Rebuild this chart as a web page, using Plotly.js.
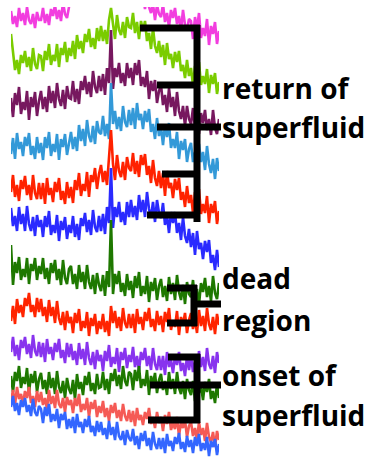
<!DOCTYPE html>
<html>
<head>
<meta charset="utf-8">
<script src="https://cdn.plot.ly/plotly-3.0.1.min.js"></script>
<style>html,body{margin:0;padding:0;background:#fff;}#chart{width:375px;height:457px;}</style>
</head>
<body>
<div id="chart"></div>
<script>
// channel index (horizontal axis)
const channel = [0,1,2,3,4,5,6,7,8,9,10,11,12,13,14,15,16,17,18,19,20,21,22,23,24,25,26,27,28,29,30,31,32,33,34,35,36,37,38,39,40,41,42,43,44,45,46,47,48,49,50,51,52,53,54,55,56,57,58,59,60,61,62,63,64,65,66,67,68,69,70,71,72,73,74,75,76,77,78,79,80,81,82,83,84,85,86,87,88,89,90,91,92,93,94,95,96,97,98,99,100,101,102,103,104];

// stacked spectra, offset units (larger = lower on the stack)
const magenta = [11,24,16,27,8,21,13,25,7,20,24,14,28,12,20, 20,8,23,14,25,9,16,5,19,10,21,2,14,18,7, -12,4,-16,-6,-21,1,-9,-2,-18,6,-13,-5,-17,3,-10, -2,-16,3,-21,-6,-13,0,-18,-9,-22,-3,-11,1,-19,-5, -15,-1,-7,5,-12,2,-4,9,-7,7,13,4,20,5,14, 17,4,22,13,27,10,18,8,24,16,30,10,25,30,19, 21,39,17,29,13,38,28,36,19,45,26,34,22,44,31];
const lime = [34,51,70,60,74,55,63,51,67,57,71,48,64,69,55, 56,71,51,60,44,65,55,61,44,67,48,55,42,62,48, 56,41,59,35,49,41,53,34,42,29,47,38,49,28,41, 26,41,30,44,20,8,24,39,15,30,35,22,38,17,27, 28,13,33,22,39,21,31,21,41,33,49,28,46,53,41, 57,45,65,43,59,54,68,52,62,51,71,65,78,60,76, 68,85,66,76,62,85,76,84,69,93,75,84,73,94,82];
const plum = [98,117,93,105,87,114,102,110,91,120,97,107,92,116,101, 91,109,97,112,86,103,91,108,83,99,106,90,109,86,98, 99,81,102,89,104,81,90,76,94,82,97,71,87,93,76, 91,74,95,68,83,30,89,68,77,63,83,73,86,63,78, 68,85,63,75,60,86,77,87,71,99,81,91,80,103,91, 85,105,95,112,88,107,97,116,92,111,119,106,126,106,119, 124,108,129,118,134,113,123,110,130,119,135,110,128,134,119];
const skyBlue = [154,138,159,133,149,142,156,137,146,133,155,146,159,137,153, 143,160,137,148,132,156,144,152,134,160,139,147,134,155,141, 132,149,137,151,125,141,129,146,120,136,142,126,144,121,132, 134,116,136,124,139,83,124,111,129,117,131,106,122,127,110, 125,108,129,103,120,114,129,111,122,109,132,124,139,118,136, 127,145,125,137,123,148,139,148,132,159,141,150,139,162,149, 143,162,152,168,144,162,152,170,146,164,173,159,179,158,171];
const red1 = [192,175,197,185,201,180,189,176,195,185,200,175,193,199,183, 199,183,204,178,195,188,202,182,192,178,200,191,204,182,198, 187,203,180,190,173,196,184,191,172,197,175,182,168,189,174, 165,182,171,185,159,130,164,180,155,171,177,162,180,157,168, 171,153,174,161,177,155,165,154,175,166,183,160,178,186,171, 188,173,196,171,188,183,198,179,190,178,200,192,207,186,203, 195,213,192,204,189,214,204,213,196,223,204,213,201,224,211];
const blue1 = [208,226,216,231,207,224,214,231,206,224,231,217,236,215,227, 220,237,216,227,211,235,225,233,215,241,221,230,217,239,225, 233,216,237,224,240,218,226,213,232,220,235,210,227,232,216, 231,214,234,207,223,168,228,207,217,202,222,212,225,202,217, 200,217,206,220,195,212,200,217,192,209,217,202,222,200,213, 218,203,225,215,233,212,223,212,233,223,240,217,236,243,229, 247,233,255,231,249,243,259,241,252,240,263,255,270,250,267];
const green1 = [245,285,262,273,257,280,269,277,258,284,264,271,258,280,266, 274,258,279,268,284,263,273,260,280,269,285,260,278,284,269, 266,284,274,289,265,282,272,289,265,282,289,275,294,273,285, 291,275,296,271,287,220,294,274,284,271,292,283,296,274,290, 281,298,276,288,272,296,286,294,276,302,282,291,278,300,286, 279,297,286,301,277,294,283,300,275,292,300,285,304,282,294, 297,280,301,289,305,283,292,278,297,286,301,276,293,299,283];
const red2 = [321,306,324,299,313,305,317,298,306,293,312,305,317,298,312, 299,316,307,322,300,316,307,323,301,318,325,312,330,311,323, 317,333,313,323,309,331,321,328,312,336,318,326,314,334,321, 329,314,332,321,336,306,323,311,328,317,331,308,323,328,314, 328,314,333,309,324,317,330,312,321,308,327,319,331,311,325, 316,332,312,322,308,330,320,327,311,335,317,325,313,333,320, 313,329,319,333,310,326,316,331,308,324,330,317,334,314,325];
const violet = [352,337,356,345,360,340,348,337,354,344,358,335,351,356,342, 357,343,362,339,354,347,360,343,352,339,358,350,363,343,357, 344,360,351,365,343,359,349,365,342,358,365,352,369,350,361, 355,371,351,361,345,367,357,364,348,372,352,360,348,368,355, 362,347,367,356,371,352,360,348,366,356,370,348,364,370,356, 370,356,375,352,367,360,373,356,365,352,371,363,376,356,370, 356,372,361,375,351,367,357,371,348,364,369,356,373,352,363];
const green2 = [376,392,372,381,366,388,377,384,368,393,374,383,371,392,379, 373,389,380,394,372,388,378,394,371,387,393,381,398,378,389, 394,380,399,374,389,382,395,376,385,372,391,383,394,374,388, 387,372,390,379,394,373,381,369,386,375,389,366,381,386,372, 374,390,370,381,366,388,379,386,370,395,376,384,373,393,380, 374,390,381,395,372,389,379,394,372,388,394,381,399,379,390, 395,381,401,377,393,386,400,382,392,379,399,391,403,384,398];
const salmon = [401,390,405,387,399,394,404,391,398,387,403,396,407,391,402, 392,405,398,409,390,404,396,408,390,404,408,398,412,397,405, 400,413,398,406,394,412,404,410,398,417,402,409,400,417,406, 413,401,417,408,421,405,413,403,418,410,421,404,416,421,410, 422,411,426,408,420,415,425,412,419,408,424,417,428,412,423, 417,431,415,424,412,430,423,429,417,436,422,428,420,437,426, 422,436,428,440,422,435,428,441,423,437,442,432,447,431,440];
const blue2 = [407,396,411,403,415,400,407,398,412,405,416,399,412,416,406, 409,423,407,416,404,422,414,421,409,428,414,420,412,429,419, 428,417,433,414,427,422,433,419,427,416,432,426,436,421,432, 422,435,428,439,421,435,427,440,422,436,440,431,445,430,438, 441,429,445,436,449,433,441,431,446,438,450,432,444,449,438, 449,438,453,434,446,441,451,437,444,433,449,442,452,436,447, 440,453,437,446,434,451,443,450,437,456,441,447,439,455,444];

const seriesList = [magenta, lime, plum, skyBlue, red1, blue1, green1, red2, violet, green2, salmon, blue2];
const seriesColors = ['#f23ddf','#7acc00','#77185f','#3399d8','#ff2200','#2a2aff','#1e7800','#ff2400','#8833ee','#1e7800','#f55a55','#3366ff'];

const labels = ['return of','superfluid','dead','region','onset of','superfluid'];

const traces = seriesList.map((s, k) => ({
  x: channel, y: s, type: 'scatter', mode: 'lines',
  line: {color: seriesColors[k], width: 2.6}, hoverinfo: 'skip'
}));

const W = 375;
function hseg(x0, x1, y) { return {type:'line', xref:'paper', yref:'y', x0:x0/W, x1:x1/W, y0:y, y1:y, line:{color:'#000', width:7}}; }
function vseg(x, y0, y1) { return {type:'line', xref:'paper', yref:'y', x0:x/W, x1:x/W, y0:y0, y1:y1, line:{color:'#000', width:7}}; }

const shapes = [
  vseg(197, 25, 222), hseg(140, 200, 28), hseg(157, 200, 85), hseg(157, 221, 127), hseg(162, 200, 174), hseg(147, 200, 215),
  vseg(194, 285, 326), hseg(167, 197, 288), hseg(194, 221, 304), hseg(167, 197, 323),
  vseg(197, 354, 423), hseg(168, 200, 357), hseg(150, 221, 385), hseg(148, 200, 420)
];

const labelY = [88, 127, 278, 320, 375, 415];
const annotations = labels.map((t, k) => ({
  text: t, xref:'paper', yref:'y', x: 220/W, y: labelY[k], xanchor:'left', yanchor:'middle',
  showarrow:false, font:{family:'Open Sans', size:28, color:'#000', weight:700}
}));

const layout = {
  width: 375, height: 457,
  margin: {l:0, r:0, t:0, b:0},
  paper_bgcolor:'#fff', plot_bgcolor:'#fff',
  showlegend:false,
  xaxis: {domain:[11/375, 219/375], range:[0, 104], visible:false, showgrid:false, zeroline:false},
  yaxis: {domain:[0, 450/457], range:[457, 7], visible:false, showgrid:false, zeroline:false},
  shapes: shapes,
  annotations: annotations
};

Plotly.newPlot('chart', traces, layout, {displayModeBar:false, staticPlot:true});
</script>
</body>
</html>
